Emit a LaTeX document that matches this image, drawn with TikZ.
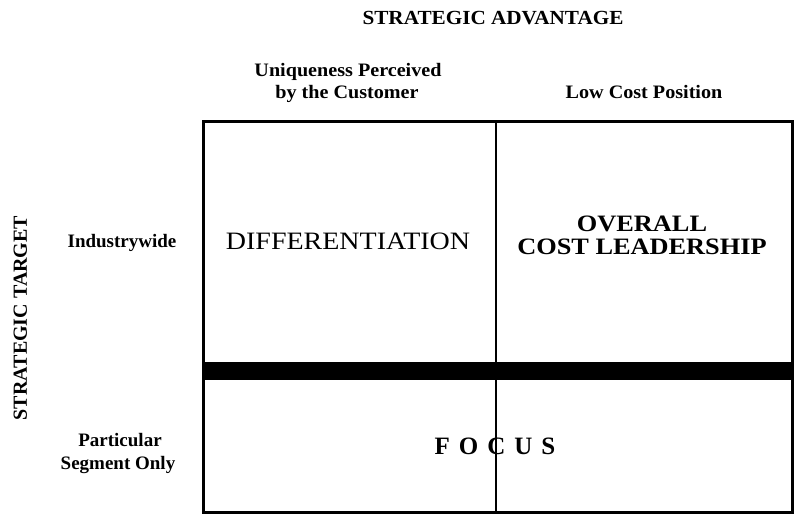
\documentclass[tikz,border=0pt]{standalone}
\usepackage{fontspec}
\setmainfont{Liberation Serif}
% slightly widened cuts of the serif face
\newfontfamily\headface[FakeStretch=1.06]{Liberation Serif}
\newfontfamily\cellface[FakeStretch=1.12]{Liberation Serif}
\begin{document}
\begin{tikzpicture}[x=1pt,y=-1pt,
  hdr/.style={font=\headface\fontsize{19}{23}\selectfont\bfseries, anchor=base, inner sep=0pt, align=center},
  rowhdr/.style={font=\fontsize{19}{23}\selectfont\bfseries, anchor=base, inner sep=0pt, align=center},
  axis/.style={font=\headface\fontsize{20}{24}\selectfont\bfseries, anchor=base, inner sep=0pt},
  big/.style={font=\cellface\fontsize{25}{23}\selectfont, inner sep=0pt, align=center},
  bigbold/.style={big, font=\cellface\fontsize{23.5}{23}\selectfont\bfseries},
  frame/.style={line width=3pt},
  divider/.style={line width=2.5pt}]
\useasboundingbox (0,0) rectangle (794,519);

% grid of the four cells
\coordinate (tl) at (203,121);
\coordinate (br) at (792,512);
\coordinate (mt) at (496,121);
\coordinate (mb) at (496,512);
\fill (203,362) rectangle (792,380);
\draw[divider] (mt) -- (mb);
\draw[frame] (tl) rectangle (br);

% axis titles
\node[axis] (adv) at (493,25) {STRATEGIC ADVANTAGE};
\node[axis, font=\fontsize{20}{24}\selectfont\bfseries, rotate=90] (tgt) at (27,318) {STRATEGIC TARGET};

% column headings
\node[hdr] (uniq1) at (348,76) {Uniqueness Perceived};
\node[hdr] (uniq2) at (347,98) {by the Customer};
\node[hdr] (low) at (644,98) {Low Cost Position};

% row headings
\node[rowhdr] (ind) at (122,247) {Industrywide};
\node[rowhdr] (part1) at (120,446) {Particular};
\node[rowhdr] (part2) at (118,469) {Segment Only};

% strategy names
\node[big, anchor=base] (diff) at (348,249) {DIFFERENTIATION};
\node[bigbold] (ocl) at (642,235.5) {OVERALL\\COST LEADERSHIP};
\node[bigbold, anchor=base, font=\fontsize{25}{22}\selectfont\bfseries] (focus) at (495,454) {F\hspace{9pt}O\hspace{9pt}C\hspace{9pt}U\hspace{9pt}S};
\end{tikzpicture}
\end{document}
